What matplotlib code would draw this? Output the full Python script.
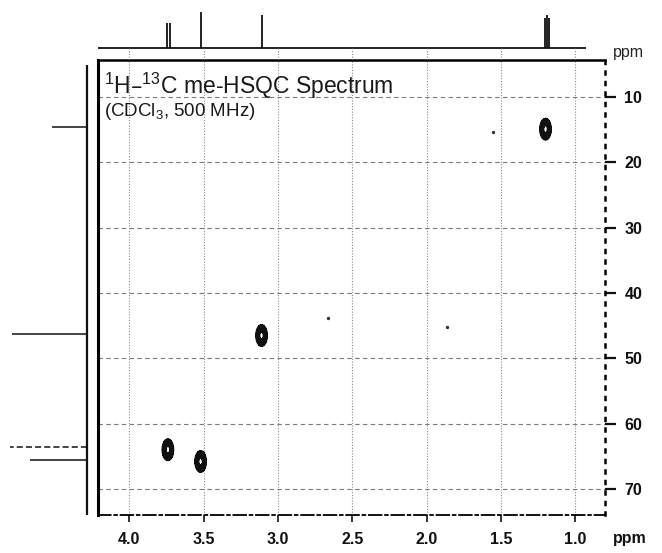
import numpy as np
import matplotlib
matplotlib.use("Agg")
import matplotlib.pyplot as plt

plt.rcParams['font.family'] = ['Liberation Sans', 'DejaVu Sans']
plt.rcParams['mathtext.default'] = 'regular'

# ---------------- data ----------------
# 2D cross peaks (1H ppm, 13C ppm)
peak_h = [3.74, 3.52, 3.11, 1.20]
peak_c = [64.0, 65.8, 46.5, 14.9]

# small noise specks seen in the spectrum
speck_h = [1.55, 1.86, 2.66]
speck_c = [15.4, 45.2, 43.8]

# 1H projection (top): line positions and heights
h1d_ppm = [3.745, 3.725, 3.52, 3.11, 1.205, 1.19, 1.175]
h1d_int = [25, 25, 36, 33, 30, 33, 30]

# 13C projection (left): positions and intensities
c1d_ppm = [14.6, 46.2, 63.6, 65.6]
c1d_int = [35, 75, 77, 57]

x_ticks = [4.0, 3.5, 3.0, 2.5, 2.0, 1.5, 1.0]
x_labels = ["4.0", "3.5", "3.0", "2.5", "2.0", "1.5", "1.0"]
y_ticks = [10, 20, 30, 40, 50, 60, 70]
y_labels = ["10", "20", "30", "40", "50", "60", "70"]

title_text = r"$^{1}$H–$^{13}$C me-HSQC Spectrum"
subtitle_text = r"(CDCl$_{3}$, 500 MHz)"

# ---------------- figure ----------------
W, H = 662, 553
fig = plt.figure(figsize=(W / 100, H / 100), dpi=100)

def px_axes(x0, y0, x1, y1):
    return fig.add_axes([x0 / W, 1 - y1 / H, (x1 - x0) / W, (y1 - y0) / H])

XL = (4.21, 0.80)
YL = (74.0, 4.3)

ax = px_axes(98, 60, 605, 515)
ax.set_xlim(*XL)
ax.set_ylim(*YL)
ax.set_facecolor('none')

# grid
for xt in x_ticks:
    ax.axvline(xt, color='#8a8a8a', lw=0.8, ls=(0, (1, 1.5)), zorder=1)
for yt in y_ticks:
    ax.axhline(yt, color='#7a7a7a', lw=0.8, ls=(0, (4, 3)), zorder=1)

# cross peaks as contours
gx = np.linspace(XL[1], XL[0], 700)
gy = np.linspace(YL[1], YL[0], 700)
GX, GY = np.meshgrid(gx, gy)
Z = np.zeros_like(GX)
sx, sy = 0.022, 0.95
for ph, pc in zip(peak_h, peak_c):
    Z += np.exp(-((GX - ph) ** 2 / (2 * sx ** 2) + (GY - pc) ** 2 / (2 * sy ** 2)))
ax.contourf(GX, GY, Z, levels=[0.22, 0.85], colors=['#111111'], zorder=3)
ax.contour(GX, GY, Z, levels=[0.22, 0.5, 0.85], colors=['#111111'], linewidths=1.0, zorder=3)
ax.scatter(speck_h, speck_c, s=2, color='#333333', zorder=3)

# spines
for s in ['top', 'left', 'right', 'bottom']:
    ax.spines[s].set_color('black')
ax.spines['top'].set_linewidth(1.8)
ax.spines['left'].set_linewidth(2.2)
ax.spines['right'].set_linewidth(1.8)
ax.spines['right'].set_linestyle((0, (1.2, 3)))
ax.spines['bottom'].set_linewidth(1.3)
ax.spines['bottom'].set_linestyle((0, (7, 2, 1.5, 2)))

ax.set_xticks(x_ticks)
ax.set_xticklabels(x_labels, fontweight='bold')
ax.set_yticks(y_ticks)
ax.set_yticklabels(y_labels, fontweight='bold')
ax.yaxis.tick_right()
ax.tick_params(axis='x', direction='out', length=5, width=1.2, pad=7,
               labelsize=11.5, colors='#111111', top=False)
ax.tick_params(axis='y', direction='out', length=8, width=1.6, pad=6,
               labelsize=11.5, colors='#111111', left=False)

# titles
ax.text(0.012, 0.926, title_text, transform=ax.transAxes, fontsize=16.5,
        ha='left', va='baseline', color='#1a1a1a')
ax.text(0.012, 0.878, subtitle_text, transform=ax.transAxes, fontsize=13.5,
        ha='left', va='baseline', color='#1a1a1a')

# ppm labels
fig.text(613 / W, 1 - 538 / H, "ppm", fontsize=11.5, fontweight='bold',
         ha='left', va='center', color='#111111')
fig.text(613 / W, 1 - 52 / H, "ppm", fontsize=11.5, ha='left', va='center',
         color='#222222')

# ---------------- top 1H projection ----------------
axt = px_axes(98, 0, 605, 60)
axt.set_xlim(*XL)
axt.set_ylim(-12, 48)
axt.axis('off')
axt.set_facecolor('none')
axt.hlines(0, 4.21, 0.93, color='#111111', lw=1.3)
axt.vlines(h1d_ppm, 0, h1d_int, color='#111111', lw=1.3)
for xt in x_ticks:
    axt.vlines(xt, -12, 0, color='#8a8a8a', lw=0.8, ls=(0, (1, 1.5)))

# ---------------- left 13C projection ----------------
axl = px_axes(0, 60, 92, 515)
axl.set_ylim(*YL)
axl.set_xlim(87, -5)
axl.axis('off')
axl.set_facecolor('none')
axl.vlines(0, 5.0, 74.0, color='#111111', lw=1.6)
for i, (pc, ic) in enumerate(zip(c1d_ppm, c1d_int)):
    axl.hlines(pc, 0, ic, color='#111111', lw=1.1,
               ls=(0, (4, 2)) if i == 2 else '-')

fig.savefig("out.png", dpi=100)
